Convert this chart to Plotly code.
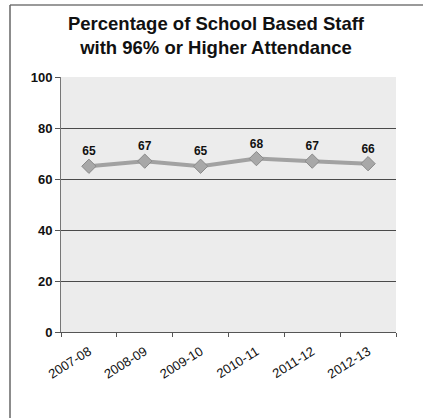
import plotly.graph_objects as go

categories = ["2007-08", "2008-09", "2009-10", "2010-11", "2011-12", "2012-13"]
values = [65, 67, 65, 68, 67, 66]
y_ticks = [0, 20, 40, 60, 80, 100]

FONT = "Liberation Sans, Arial, sans-serif"

fig = go.Figure()
fig.add_trace(go.Scatter(
    x=categories, y=values,
    mode="lines+markers+text",
    line=dict(color="#a2a2a2", width=4),
    marker=dict(symbol="diamond", size=11, color="#a8a8a8",
                line=dict(color="#8a8a8a", width=1)),
    text=[str(v) for v in values],
    textposition="top center",
    textfont=dict(family=FONT, size=12, color="#111111", weight="bold"),
    cliponaxis=False,
    hoverinfo="skip",
))

fig.update_layout(
    width=423, height=418,
    margin=dict(l=61, r=27, t=77, b=86),
    paper_bgcolor="white",
    plot_bgcolor="#ececec",
    showlegend=False,
    title=dict(
        text="<b>Percentage of School Based Staff<br>with 96% or Higher Attendance</b>",
        x=216 / 423, xref="container", xanchor="center",
        y=1 - 30 / 418, yanchor="top",
        font=dict(family=FONT, size=18.5, color="#111111"),
    ),
    font=dict(family=FONT, color="#111111"),
)

fig.update_xaxes(
    type="category",
    range=[-0.5, 5.5],
    showgrid=False,
    showline=True, linecolor="#555555", linewidth=1,
    ticks="outside", tickson="boundaries", ticklen=4, tickcolor="#555555",
    tickangle=-32,
    ticklabelstandoff=6,
    tickfont=dict(family=FONT, size=13, color="#111111"),
)
fig.update_yaxes(
    range=[0, 100],
    tickvals=y_ticks,
    showgrid=True, gridcolor="#4a4a4a", gridwidth=1,
    showline=True, linecolor="#777777", linewidth=1,
    ticks="outside", ticklen=5, tickcolor="#555555",
    tickfont=dict(family=FONT, size=13, color="#111111", weight="bold"),
    zeroline=False,
)

# frame lines of the chart area (top and left)
fig.add_shape(type="line", xref="paper", yref="paper",
              x0=(10 - 61) / 335, x1=(423 - 61) / 335,
              y0=(332 - 5) / 255, y1=(332 - 5) / 255,
              line=dict(color="#9a9a9a", width=2))
fig.add_shape(type="line", xref="paper", yref="paper",
              x0=(10 - 61) / 335, x1=(10 - 61) / 335,
              y0=(332 - 5) / 255, y1=(332 - 418) / 255,
              line=dict(color="#666666", width=1.5))

fig.write_html("out.html", config={"displayModeBar": False},
               post_script="document.body.style.margin='0';")
